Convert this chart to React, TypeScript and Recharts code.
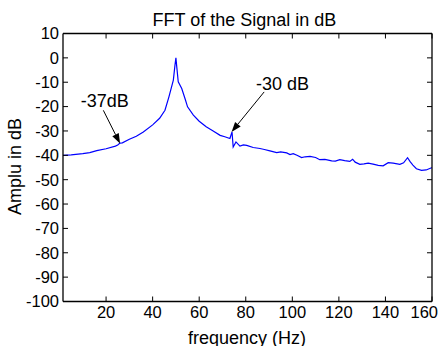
import { Line, LineChart, ReferenceDot, XAxis, YAxis } from "recharts";

const FREQ = [
  1.5, 5, 10, 13, 16, 20, 24, 25, 26, 27, 30, 33, 36, 40, 43, 45.3, 47, 48.9,
  49.6, 50, 50.4, 51, 52.5, 54, 55, 57.5, 60, 63, 66, 69, 71, 73.2, 74.1, 74.6,
  75.8, 77.5, 79, 80.4, 83.2, 86.1, 88, 90.4, 93.3, 95, 97.6, 99, 100.4, 102,
  104, 105.5, 107.6, 110, 111.8, 114, 116.9, 118.5, 120.4, 122.5, 124.7, 125.9,
  127, 129, 130.8, 132.6, 134.7, 136.9, 139, 141.2, 143.3, 146.2, 147.8, 149.5,
  150.6, 151.8, 153.3, 155.5, 157.5, 159.8, 160,
];
const AMP_DB = [
  -40.0, -39.8, -39.3, -38.9, -38.1, -37.3, -36.2, -35.8, -35.0, -34.9, -33.4,
  -32.2, -30.4, -27.5, -24.8, -21.5, -16, -9.1, -3, 0, -4, -9.8, -12.6, -17,
  -20.1, -23.5, -26.0, -28.3, -30.0, -31.8, -32.4, -33.1, -30.4, -36.6, -34.5,
  -36.2, -35.7, -35.9, -36.8, -37.2, -37.6, -38.2, -38.9, -38.6, -39.0, -39.7,
  -39.3, -40.0, -40.9, -40.6, -40.4, -40.9, -41.8, -41.7, -42.3, -42.4, -41.8,
  -42.2, -42.5, -41.6, -42.8, -43.7, -43.5, -43.2, -43.6, -44.1, -44.3, -43.0,
  -43.2, -43.7, -43.1, -41.0, -42.6, -44.0, -45.5, -46.2, -46.0, -45.1, -45.0,
];
const X_TICKS = [20, 40, 60, 80, 100, 120, 140, 160];
const Y_TICKS = [-100, -90, -80, -70, -60, -50, -40, -30, -20, -10, 0, 10];

const NOTE_TEXT = ["-37dB", "-30 dB"];
const NOTE_FREQ = [26, 73.9];
const NOTE_DB = [-35.2, -30.4];

const data = FREQ.map((f, i) => ({ f, db: AMP_DB[i] }));

const FONT = "'Liberation Sans', Arial, sans-serif";

// pixel offsets from the arrow tip: [tailX, tailY, textX, textY]
const NOTE_OFFSETS = [
  [-16.7, -33.3, -15.3, -36.6],
  [32.6, -40, 51, -41.7],
];

function Arrow(props: any) {
  const { cx, cy, idx } = props;
  const [ox, oy, lx, ly] = NOTE_OFFSETS[idx];
  const tx = cx + ox;
  const ty = cy + oy;
  const dx = cx - tx;
  const dy = cy - ty;
  const len = Math.hypot(dx, dy);
  const ux = dx / len;
  const uy = dy / len;
  const head = 10;
  const half = 3.6;
  const bx = cx - ux * head;
  const by = cy - uy * head;
  const pts = `${cx},${cy} ${bx - uy * half},${by + ux * half} ${bx + uy * half},${by - ux * half}`;
  return (
    <g>
      <line x1={tx} y1={ty} x2={bx} y2={by} stroke="#000" strokeWidth={1} />
      <polygon points={pts} fill="#000" />
      <text x={cx + lx} y={cy + ly} textAnchor="middle" fontSize={18} fontFamily={FONT} fill="#000">
        {NOTE_TEXT[idx]}
      </text>
    </g>
  );
}

// x tick label; the last one is pulled inside the window like matlab does
function XTick(props: any) {
  const { x, y, payload } = props;
  const last = payload.value === X_TICKS[X_TICKS.length - 1];
  return (
    <text
      x={last ? x + 6 : x}
      y={y}
      dy={11.8}
      textAnchor={last ? "end" : "middle"}
      fontSize={16.5}
      fontFamily={FONT}
      fill="#000"
    >
      {payload.value}
    </text>
  );
}

function NoTick() {
  return <g />;
}

export default function App() {
  const tickStyle = { fontSize: 16.5, fontFamily: FONT, fill: "#000" };
  const axisLine = { stroke: "#000", strokeWidth: 1.3 };
  return (
    <div style={{ position: "absolute", left: 0, top: 0, width: 439, height: 346, background: "#fff" }}>
      <LineChart width={439} height={346} data={data} margin={{ top: 32.5, right: 6, bottom: 0, left: 0 }}>
        <XAxis
          dataKey="f"
          type="number"
          domain={[1.5, 160]}
          ticks={X_TICKS}
          interval={0}
          allowDataOverflow
          height={44.5}
          tickSize={-5}
          tickMargin={10}
          tick={<XTick />}
          axisLine={axisLine}
          tickLine={{ stroke: "#000" }}
        />
        <XAxis
          xAxisId="top"
          dataKey="f"
          type="number"
          orientation="top"
          domain={[1.5, 160]}
          ticks={X_TICKS}
          interval={0}
          allowDataOverflow
          height={1}
          tickSize={-5}
          tick={<NoTick />}
          axisLine={axisLine}
          tickLine={{ stroke: "#000" }}
        />
        <YAxis
          type="number"
          domain={[-100, 10]}
          ticks={Y_TICKS}
          interval={0}
          allowDataOverflow
          width={63}
          tickSize={-5}
          tickMargin={9}
          tick={tickStyle}
          axisLine={axisLine}
          tickLine={{ stroke: "#000" }}
        />
        <YAxis
          yAxisId="right"
          type="number"
          orientation="right"
          domain={[-100, 10]}
          ticks={Y_TICKS}
          interval={0}
          allowDataOverflow
          width={1}
          tickSize={-5}
          tick={<NoTick />}
          axisLine={axisLine}
          tickLine={{ stroke: "#000" }}
        />
        {/* invisible twin so the top / right box axes get drawn */}
        <Line
          xAxisId="top"
          yAxisId="right"
          dataKey="db"
          stroke="none"
          dot={false}
          activeDot={false}
          isAnimationActive={false}
        />
        <Line
          type="linear"
          dataKey="db"
          stroke="#0000ff"
          strokeWidth={1.2}
          dot={false}
          activeDot={false}
          isAnimationActive={false}
        />
        {NOTE_TEXT.map((t, i) => (
          <ReferenceDot
            key={t}
            x={NOTE_FREQ[i]}
            y={NOTE_DB[i]}
            r={0}
            shape={(p: any) => <Arrow cx={p.cx} cy={p.cy} idx={i} />}
          />
        ))}
        <text x={244.5} y={26} textAnchor="middle" fontSize={18} fontFamily={FONT} fill="#000">
          FFT of the Signal in dB
        </text>
        <text x={247} y={343.5} textAnchor="middle" fontSize={18} fontFamily={FONT} fill="#000">
          frequency (Hz)
        </text>
        <text
          x={21}
          y={166.5}
          transform="rotate(-90 21 166.5)"
          textAnchor="middle"
          fontSize={18}
          fontFamily={FONT}
          fill="#000"
        >
          Amplu in dB
        </text>
      </LineChart>
    </div>
  );
}
